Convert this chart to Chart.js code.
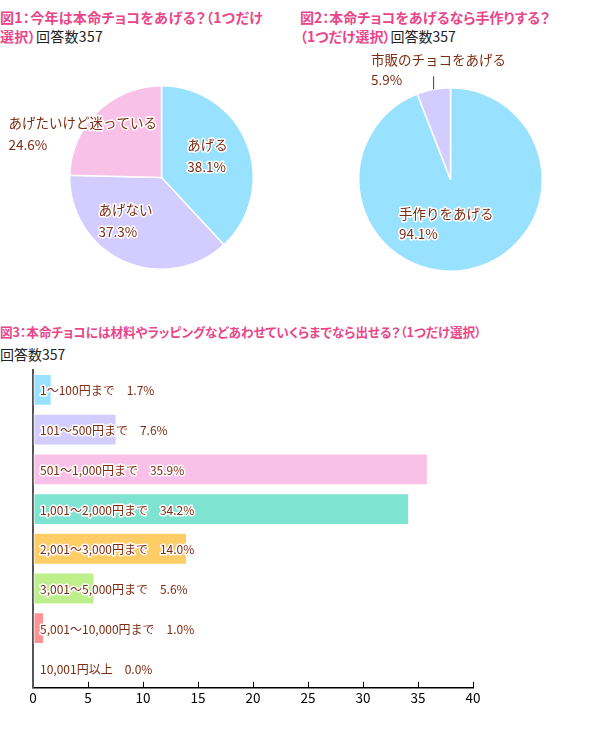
<!DOCTYPE html>
<html>
<head>
<meta charset="utf-8">
<script src="https://cdn.jsdelivr.net/npm/chart.js@4"></script>
<style>
  body { margin: 0; background: #fff; }
  #wrap { position: relative; width: 600px; height: 730px; font-family: "Noto Sans CJK JP", sans-serif; }
  .t { position: absolute; font-size: 14px; line-height: 19px; font-feature-settings: "palt"; white-space: nowrap; }
  .pink { color: #e9468a; font-weight: bold; }
  .cnt { color: #222; font-weight: normal; }
  .box { position: absolute; }
</style>
</head>
<body>
<div id="wrap">
  <div class="t" style="left:0;top:8px;letter-spacing:0.3px"><span class="pink">図1：今年は本命チョコをあげる？（1つだけ<br>選択）</span><span class="cnt">回答数357</span></div>
  <div class="t" style="left:300px;top:8px"><span class="pink">図2：本命チョコをあげるなら手作りする？<br>（1つだけ選択）</span><span class="cnt">回答数357</span></div>
  <div class="t" style="left:0;top:320px;font-size:12.6px;line-height:23px"><span class="pink">図3：本命チョコには材料やラッピングなどあわせていくらまでなら出せる？（1つだけ選択）</span><br><span class="cnt" style="font-size:14px">回答数357</span></div>

  <div class="box" style="left:0;top:40px;width:300px;height:260px"><canvas id="pie1"></canvas></div>
  <div class="box" style="left:300px;top:40px;width:300px;height:260px"><canvas id="pie2"></canvas></div>
  <div class="box" style="left:0;top:360px;width:600px;height:370px"><canvas id="bar"></canvas></div>
</div>

<script>
// 図1
const pie1Labels = ["あげる", "あげない", "あげたいけど迷っている"];
const pie1Values = [38.1, 37.3, 24.6];
// 図2
const pie2Labels = ["手作りをあげる", "市販のチョコをあげる"];
const pie2Values = [94.1, 5.9];
// 図3
const barLabels = ["1〜100円まで", "101〜500円まで", "501〜1,000円まで", "1,001〜2,000円まで",
  "2,001〜3,000円まで", "3,001〜5,000円まで", "5,001〜10,000円まで", "10,001円以上"];
const barValues = [1.7, 7.6, 35.9, 34.2, 14.0, 5.6, 1.0, 0.0];
const xTicks = [0, 5, 10, 15, 20, 25, 30, 35, 40];

const pieColors = ["#99e2ff", "#d3ccff", "#f9c1e7"];
const barColors = ["#99e2ff", "#d3ccff", "#f9c1e7", "#7fe3d2", "#ffcd66", "#bdf08a", "#ff9393", "#dddddd"];

const FONT = '"Noto Sans CJK JP", sans-serif';
const TEXT_COLOR = "#7d2c12";

function haloText(ctx, text, x, y) {
  ctx.lineJoin = "round";
  ctx.lineWidth = 3;
  ctx.strokeStyle = "#fff";
  ctx.strokeText(text, x, y);
  ctx.fillStyle = TEXT_COLOR;
  ctx.fillText(text, x, y);
}

// slice labels, placed relative to each arc's own tooltip position
const sliceLabels = {
  id: "sliceLabels",
  afterDatasetsDraw(chart, args, opts) {
    const ctx = chart.ctx;
    const meta = chart.getDatasetMeta(0);
    const values = chart.data.datasets[0].data;
    ctx.save();
    ctx.font = "13.5px " + FONT;
    ctx.textAlign = "left";
    ctx.textBaseline = "middle";
    meta.data.forEach((arc, i) => {
      const p = arc.tooltipPosition();
      const [dx, dy] = opts.offsets[i];
      haloText(ctx, chart.data.labels[i], p.x + dx, p.y + dy);
      haloText(ctx, values[i].toFixed(1) + "%", p.x + dx, p.y + dy + opts.gap);
      if (opts.leader && opts.leader[i]) {
        const mid = (arc.startAngle + arc.endAngle) / 2;
        const ox = arc.x + Math.cos(mid) * arc.outerRadius;
        const oy = arc.y + Math.sin(mid) * arc.outerRadius;
        ctx.strokeStyle = TEXT_COLOR;
        ctx.lineWidth = 1;
        ctx.beginPath();
        ctx.moveTo(ox, oy);
        ctx.lineTo(ox, oy - opts.leader[i]);
        ctx.stroke();
      }
    });
    ctx.restore();
  }
};

function makePie(id, labels, values, padding, labelOpts) {
  return new Chart(document.getElementById(id), {
    type: "pie",
    data: {
      labels: labels,
      datasets: [{
        data: values,
        backgroundColor: pieColors.slice(0, values.length),
        borderColor: "#fff",
        borderWidth: 1.5
      }]
    },
    options: {
      responsive: true,
      maintainAspectRatio: false,
      animation: false,
      layout: { padding: padding },
      plugins: {
        legend: { display: false },
        tooltip: { enabled: false },
        sliceLabels: labelOpts
      }
    },
    plugins: [sliceLabels]
  });
}

makePie("pie1", pie1Labels, pie1Values,
  { left: 69, right: 46, top: 45, bottom: 30 },
  { offsets: [[-17, -16], [-44, -9], [-121, -22]], gap: 22 });

makePie("pie2", pie2Labels, pie2Values,
  { left: 58, right: 57, top: 47, bottom: 28 },
  { offsets: [[-60, -11], [-71, -75]], gap: 20, leader: [0, 13] });

// bar labels inside bars + inward tick marks
const barText = {
  id: "barText",
  afterDatasetsDraw(chart) {
    const ctx = chart.ctx;
    const meta = chart.getDatasetMeta(0);
    const x0 = chart.scales.x.getPixelForValue(0);
    ctx.save();
    ctx.font = "12px " + FONT;
    ctx.textAlign = "left";
    ctx.textBaseline = "middle";
    meta.data.forEach((bar, i) => {
      const txt = chart.data.labels[i] + "　" + barValues[i].toFixed(1) + "%";
      haloText(ctx, txt, x0 + 7, bar.y + 1);
    });
    // tick marks pointing up from the x axis
    const xs = chart.scales.x;
    const bottom = chart.chartArea.bottom;
    ctx.strokeStyle = "#000";
    ctx.lineWidth = 1;
    xTicks.slice(1).forEach(v => {
      const px = Math.round(xs.getPixelForValue(v)) + 0.5;
      ctx.beginPath();
      ctx.moveTo(px, bottom);
      ctx.lineTo(px, bottom - 6);
      ctx.stroke();
    });
    ctx.restore();
  }
};

new Chart(document.getElementById("bar"), {
  type: "bar",
  data: {
    labels: barLabels,
    datasets: [{
      data: barValues,
      backgroundColor: barColors,
      borderColor: "rgba(255,255,255,0.7)",
      borderWidth: 1,
      borderSkipped: false,
      barPercentage: 0.8,
      categoryPercentage: 1
    }]
  },
  options: {
    indexAxis: "y",
    responsive: true,
    maintainAspectRatio: false,
    animation: false,
    layout: { padding: { left: 33, right: 127, top: 10, bottom: 22 } },
    plugins: { legend: { display: false }, tooltip: { enabled: false } },
    scales: {
      x: {
        min: 0,
        max: 40,
        afterBuildTicks: axis => { axis.ticks = xTicks.map(v => ({ value: v })); },
        grid: { display: true, drawOnChartArea: false, drawTicks: false },
        border: { color: "#000", width: 1.5 },
        ticks: { color: "#000", padding: 2, font: { size: 13.5, family: FONT } }
      },
      y: {
        grid: { display: false, drawTicks: false },
        border: { color: "#555", width: 2 },
        ticks: { display: false }
      }
    }
  },
  plugins: [barText]
});
</script>
</body>
</html>
